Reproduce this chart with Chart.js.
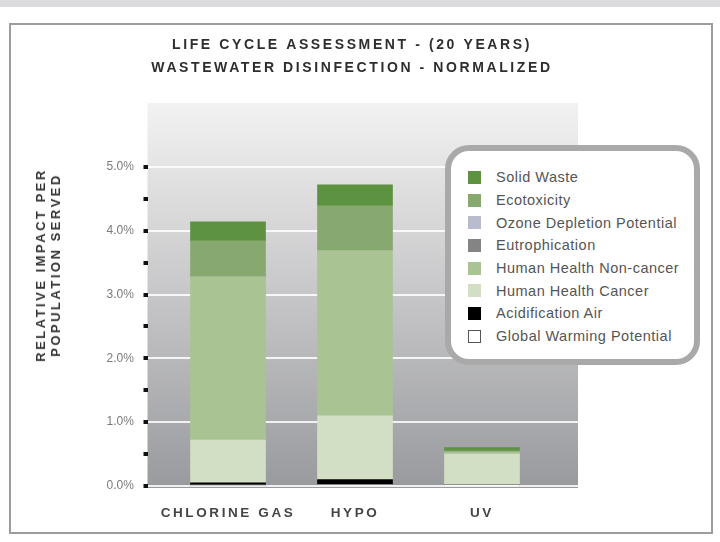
<!DOCTYPE html>
<html>
<head>
<meta charset="utf-8">
<title>Life Cycle Assessment</title>
<script src="https://cdn.jsdelivr.net/npm/chart.js@4.4.0/dist/chart.umd.min.js"></script>
<style>
  html, body { margin: 0; padding: 0; background: #fff; }
  body { width: 720px; height: 542px; position: relative; overflow: hidden; font-family: 'Liberation Sans', Arial, sans-serif; }
  #topBand { position: absolute; left: 0; top: 0; width: 720px; height: 7px; background: #dcdcde; }
  #panel { position: absolute; left: 9px; top: 23px; width: 700px; height: 507px; border: 2px solid #9c9c9c; background: #fff; }
  #chartWrap { position: absolute; left: 0; top: 0; width: 720px; height: 542px; }
  #yTitle {
    position: absolute; left: 48px; top: 265px;
    transform: translate(-50%, -50%) rotate(-90deg);
    white-space: nowrap; text-align: center;
    font: bold 13px 'Liberation Sans', Arial, sans-serif;
    line-height: 15px; letter-spacing: 2.5px; color: #333;
  }
  #legend {
    position: absolute; left: 445px; top: 145px; width: 243px; height: 208px;
    border: 6px solid #a9a9a9; border-radius: 24px; background: #fff;
    box-sizing: content-box; padding: 0;
  }
  #legend ul { list-style: none; margin: 0; padding: 15px 0 0 17px; }
  #legend li { height: 22.7px; display: flex; align-items: center; font-size: 14.5px; letter-spacing: 0.5px; color: #555; white-space: nowrap; }
  #legend .sw { width: 13px; height: 13px; margin-right: 15px; box-sizing: border-box; flex: none; }
</style>
</head>
<body>
<div id="topBand"></div>
<div id="panel"></div>
<div id="chartWrap"><canvas id="lcaChart" width="720" height="542"></canvas></div>
<div id="yTitle">RELATIVE IMPACT PER<br>POPULATION SERVED</div>
<div id="legend"></div>

<script>
// Data (percent of relative impact)
const categories = ['CHLORINE GAS', 'HYPO', 'UV'];

const globalWarming   = [0.01, 0.02, 0.005];
const acidification   = [0.04, 0.08, 0.015];
const healthCancer    = [0.67, 1.00, 0.48];
const healthNonCancer = [2.56, 2.59, 0.03];
const eutrophication  = [0, 0, 0];
const ozoneDepletion  = [0, 0, 0];
const ecotoxicity     = [0.56, 0.70, 0.02];
const solidWaste      = [0.30, 0.33, 0.05];

const yTickValues = [0, 0.5, 1, 1.5, 2, 2.5, 3, 3.5, 4, 4.5, 5];
const yTickLabels = ['0.0%', '', '1.0%', '', '2.0%', '', '3.0%', '', '4.0%', '', '5.0%'];

const titleLines = ['LIFE CYCLE ASSESSMENT - (20 YEARS)', 'WASTEWATER DISINFECTION - NORMALIZED'];

// Stack order, bottom to top
const series = [
  { label: 'Global Warming Potential', values: globalWarming },
  { label: 'Acidification Air', values: acidification },
  { label: 'Human Health Cancer', values: healthCancer },
  { label: 'Human Health Non-cancer', values: healthNonCancer },
  { label: 'Eutrophication', values: eutrophication },
  { label: 'Ozone Depletion Potential', values: ozoneDepletion },
  { label: 'Ecotoxicity', values: ecotoxicity },
  { label: 'Solid Waste', values: solidWaste }
];
const seriesColors = ['#ffffff', '#000000', '#d3dfc4', '#a9c492', '#848484', '#b9bccc', '#87a96f', '#5d9241'];

// gradient panel behind the plot + letter spacing for the caps labels
const backdrop = {
  id: 'backdrop',
  beforeDraw(chart) {
    const { ctx, chartArea } = chart;
    const left = chartArea.left, right = chartArea.right;
    const top = chartArea.top, bottom = chartArea.bottom + 2;
    const g = ctx.createLinearGradient(0, top, 0, bottom);
    g.addColorStop(0, '#f2f2f2');
    g.addColorStop(0.3, '#d8d8d9');
    g.addColorStop(1, '#999a9e');
    ctx.save();
    ctx.fillStyle = g;
    ctx.fillRect(left, top, right - left, bottom - top);
    ctx.restore();
    ctx.letterSpacing = '2.6px';
  },
  afterDatasetsDraw(chart) {
    chart.ctx.letterSpacing = '0px';
  }
};

const ctx = document.getElementById('lcaChart');
const chart = new Chart(ctx, {
  type: 'bar',
  data: {
    datasets: series.map((s, i) => ({
      label: s.label,
      data: s.values.map((v, j) => ({ x: j, y: v })),
      backgroundColor: seriesColors[i],
      borderWidth: 0,
      barThickness: 75
    }))
  },
  options: {
    responsive: false,
    animation: false,
    events: [],
    layout: { padding: { left: 126, right: 142, top: 34, bottom: 16 } },
    plugins: {
      legend: { display: false },
      tooltip: { enabled: false },
      title: {
        display: true,
        text: titleLines,
        color: '#2e2e2e',
        font: { family: "'Liberation Sans', Arial, sans-serif", size: 14, weight: 'bold', lineHeight: 23 / 14 },
        padding: { top: 0, bottom: 23 }
      }
    },
    scales: {
      x: {
        type: 'linear',
        stacked: true,
        offset: false,
        min: -0.634,
        max: 2.756,
        afterBuildTicks: (scale) => { scale.ticks = categories.map((c, i) => ({ value: i })); },
        afterFit: (scale) => { scale.height = 40; },
        grid: { display: false, drawTicks: false },
        border: { display: false },
        ticks: {
          autoSkip: false,
          maxRotation: 0,
          padding: 19,
          color: '#454545',
          font: { family: "'Liberation Sans', Arial, sans-serif", size: 13.5, weight: 'bold' },
          callback: (v) => categories[v]
        }
      },
      y: {
        stacked: true,
        min: 0,
        max: 6,
        afterBuildTicks: (scale) => { scale.ticks = yTickValues.map(v => ({ value: v })); },
        afterFit: (scale) => { scale.width = 21.5; },
        grid: {
          color: (c) => (yTickLabels[c.index] ? 'rgba(255,255,255,0.85)' : 'rgba(0,0,0,0)'),
          lineWidth: 2,
          tickColor: '#111',
          tickLength: 4,
          tickWidth: 4
        },
        border: { display: false },
        ticks: {
          z: 1,
          mirror: true,       // keeps the labels out of the narrow axis box clip
          padding: -41,
          color: '#7a7a7a',
          font: { family: "'Liberation Sans', Arial, sans-serif", size: 12 },
          callback: (v, i) => yTickLabels[i]
        }
      }
    }
  },
  plugins: [backdrop]
});

// HTML legend, top of the stack first
const legendList = document.createElement('ul');
chart.data.datasets.slice().reverse().forEach((ds) => {
  const li = document.createElement('li');
  const sw = document.createElement('span');
  sw.className = 'sw';
  sw.style.background = ds.backgroundColor;
  if (ds.backgroundColor === '#ffffff') sw.style.border = '1.5px solid #555';
  li.appendChild(sw);
  li.appendChild(document.createTextNode(ds.label));
  legendList.appendChild(li);
});
document.getElementById('legend').appendChild(legendList);
</script>
</body>
</html>
